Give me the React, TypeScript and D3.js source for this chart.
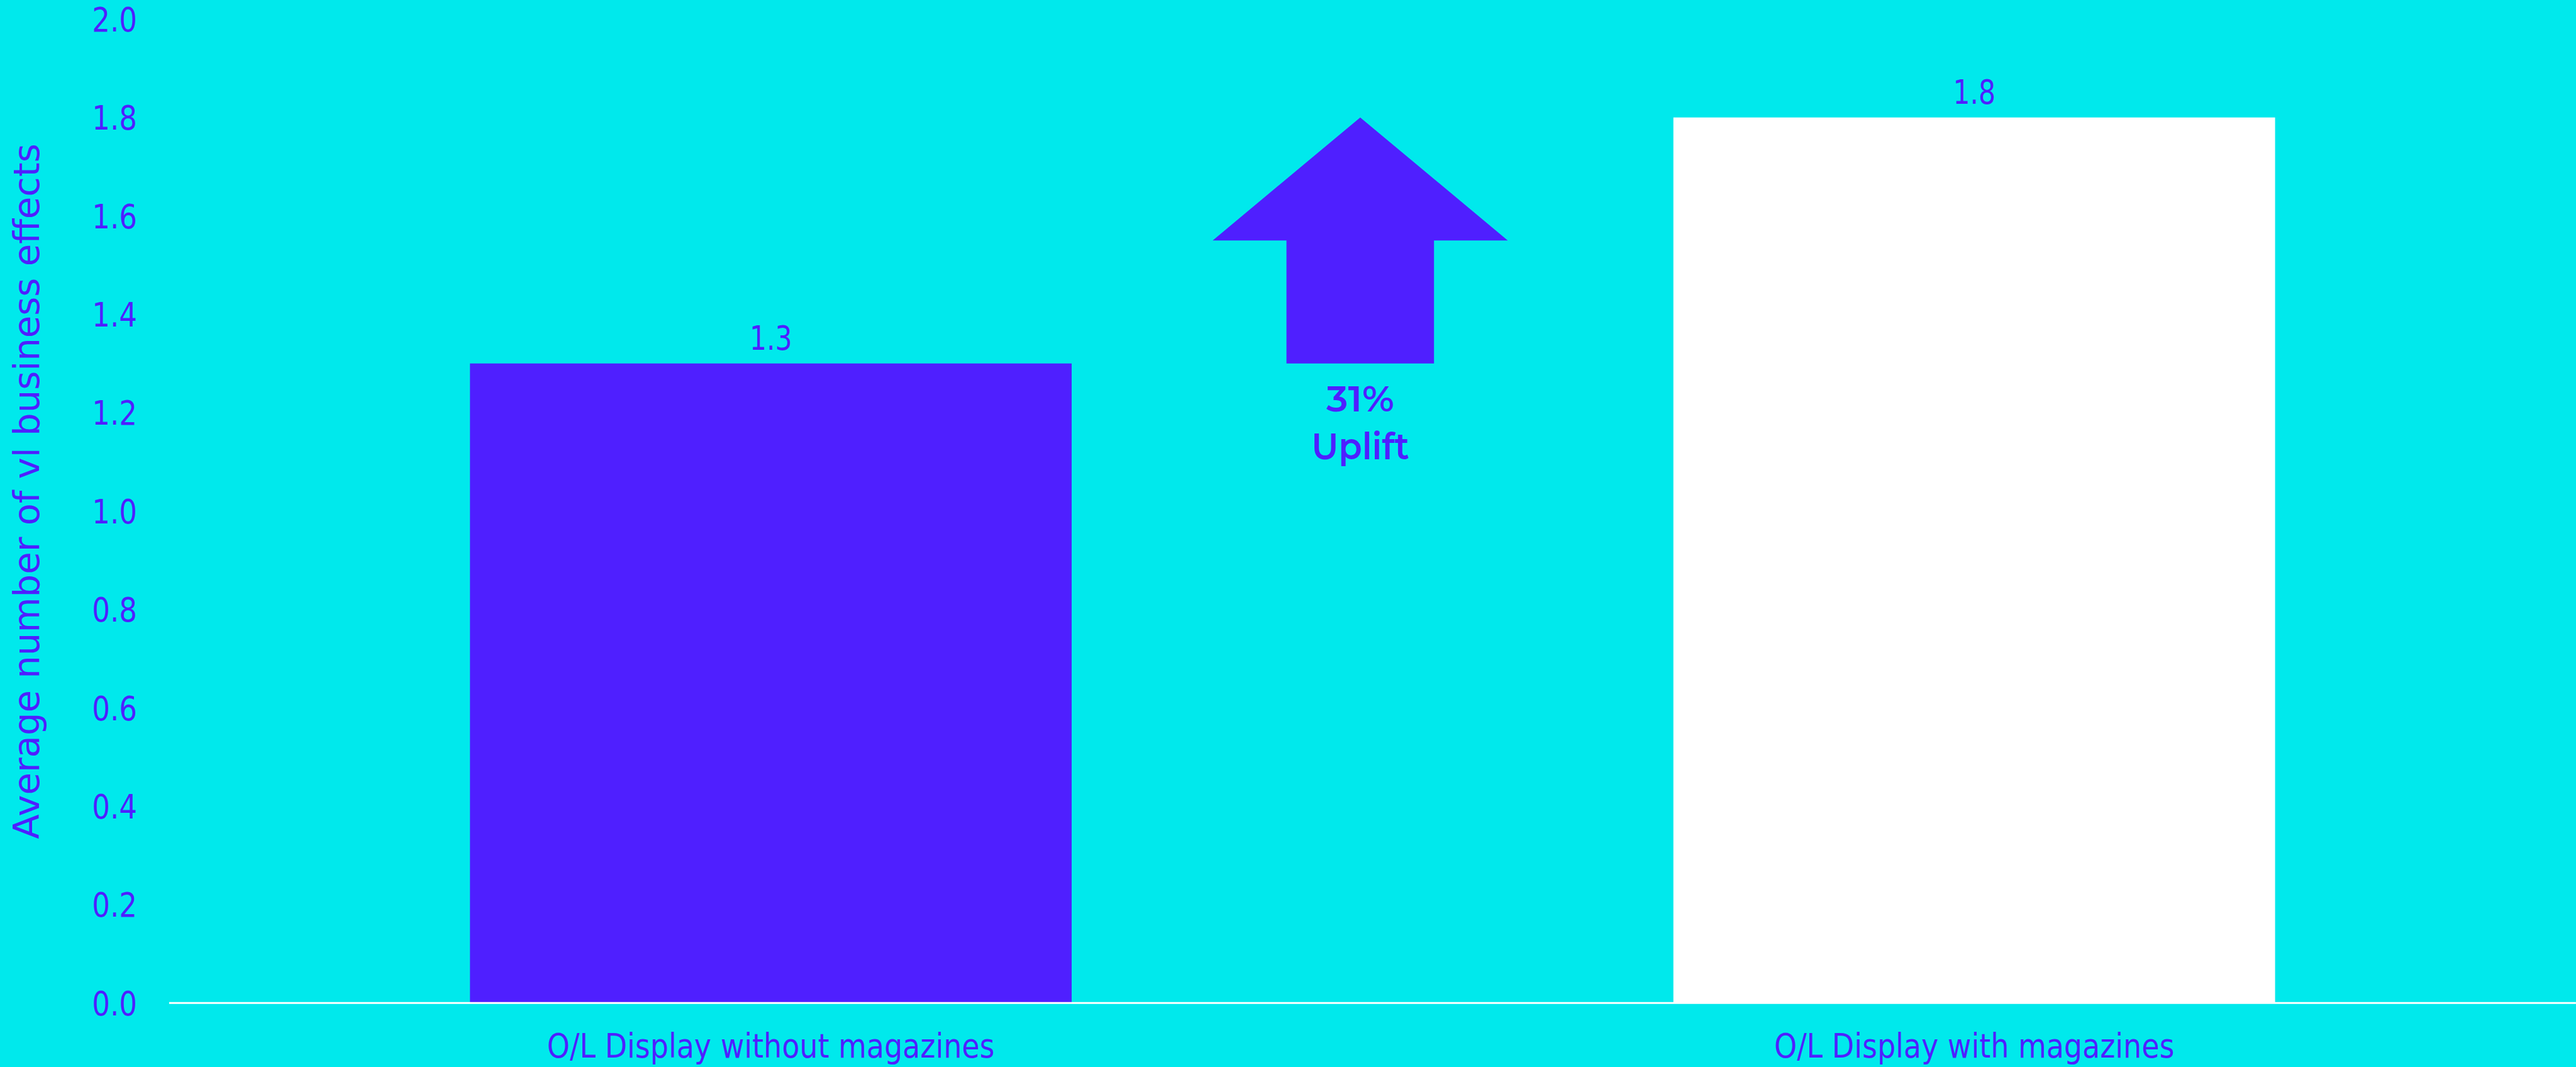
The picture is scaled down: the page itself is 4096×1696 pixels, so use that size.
import React from "react";
import * as d3 from "d3";

const categories = ["O/L Display without magazines", "O/L Display with magazines"];
const values = [1.3, 1.8];
const valueLabels = ["1.3", "1.8"];
const yTicks = [0, 0.2, 0.4, 0.6, 0.8, 1.0, 1.2, 1.4, 1.6, 1.8, 2.0];
const yTitle = "Average number of vl business effects";
const upliftLines = ["31%", "Uplift"];

const W = 4190;
const H = 1735;
const BG = "#00E9EC";
const PURPLE = "#4F1FFF";
const FONT = "'DejaVu Sans', Verdana, sans-serif";

export default function App() {
  const x = d3.scaleBand<string>().domain(categories).range([275, W]).paddingInner(0.5).paddingOuter(0.25);
  const y = d3.scaleLinear().domain([0, 2]).range([1631, 31]);
  const bw = x.bandwidth();
  const fmt = d3.format(".1f");

  const c0 = (x(categories[0]) as number) + bw;
  const c1 = x(categories[1]) as number;
  const ax = (c0 + c1) / 2 - 20;
  const tipY = y(values[1]);
  const botY = y(values[0]);
  const wingY = y((values[0] + values[1]) / 2);
  const headHalf = 240;
  const shaftHalf = 120;
  const arrowPts: [number, number][] = [
    [ax, tipY],
    [ax + headHalf, wingY],
    [ax + shaftHalf, wingY],
    [ax + shaftHalf, botY],
    [ax - shaftHalf, botY],
    [ax - shaftHalf, wingY],
    [ax - headHalf, wingY],
  ];
  const arrowPath = d3.line()(arrowPts) + "Z";

  return (
    <div style={{ position: "fixed", left: 0, top: 0, width: 4096, height: 1696, background: BG }}>
      <svg width={4096} height={1696} viewBox={`0 0 ${W} ${H}`} style={{ display: "block" }}>
        <rect x={0} y={0} width={W} height={H} fill={BG} />
        {/* y tick labels */}
        {yTicks.map((t) => (
          <text
            key={t}
            transform={`translate(223,${y(t) + 20}) scale(0.84,1)`}
            textAnchor="end"
            fontFamily={FONT}
            fontSize={55}
            fill={PURPLE}
          >
            {fmt(t)}
          </text>
        ))}
        {/* y title */}
        <text
          transform={`translate(63,799) rotate(-90)`}
          textAnchor="middle"
          fontFamily={FONT}
          fontSize={59}
          fill={PURPLE}
        >
          {yTitle}
        </text>
        {/* bars */}
        {categories.map((c, i) => (
          <rect
            key={c}
            x={x(c)}
            y={y(values[i])}
            width={bw}
            height={y(0) - y(values[i])}
            fill={i === 0 ? PURPLE : "#FFFFFF"}
          />
        ))}
        {/* value labels */}
        {categories.map((c, i) => (
          <text
            key={c + "v"}
            transform={`translate(${(x(c) as number) + bw / 2},${y(values[i]) - 22}) scale(0.79,1)`}
            textAnchor="middle"
            fontFamily={FONT}
            fontSize={55}
            fill={PURPLE}
          >
            {valueLabels[i]}
          </text>
        ))}
        {/* baseline */}
        <line x1={275} x2={W} y1={y(0)} y2={y(0)} stroke="#FFFFFF" strokeWidth={3} />
        {/* category labels */}
        {categories.map((c) => (
          <text
            key={c + "l"}
            transform={`translate(${(x(c) as number) + bw / 2},1720) scale(0.855,1)`}
            textAnchor="middle"
            fontFamily={FONT}
            fontSize={55}
            fill={PURPLE}
          >
            {c}
          </text>
        ))}
        {/* arrow */}
        <path d={arrowPath} fill={PURPLE} />
        <text
          x={ax}
          y={669}
          textAnchor="middle"
          fontFamily="Montserrat, 'Open Sans', sans-serif"
          fontWeight={600}
          fontSize={59}
          fill={PURPLE}
          textLength={110}
          lengthAdjust="spacingAndGlyphs"
        >
          {upliftLines[0]}
        </text>
        <text
          x={ax}
          y={747}
          textAnchor="middle"
          fontFamily="Montserrat, 'Open Sans', sans-serif"
          fontWeight={600}
          fontSize={60}
          fill={PURPLE}
          textLength={159}
          lengthAdjust="spacingAndGlyphs"
        >
          {upliftLines[1]}
        </text>
      </svg>
    </div>
  );
}
